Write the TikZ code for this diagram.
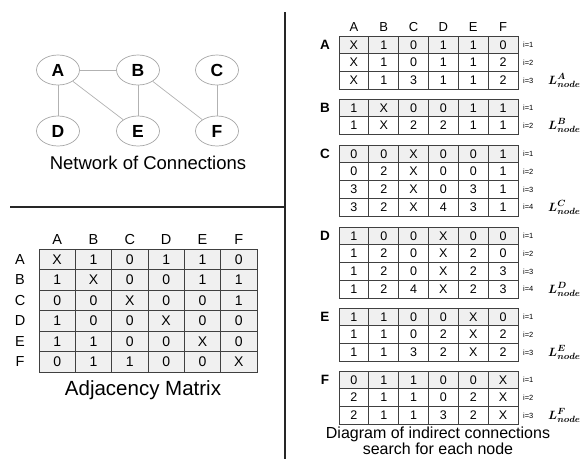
\documentclass[tikz,border=0pt]{standalone}
\usepackage{amsmath,amssymb}
\usepackage{fontspec}
\setmainfont{Liberation Sans}
\usepackage{tikz}
\usetikzlibrary{shapes.geometric}

% one search table: #1 node, #2 top edge, #3 rows, #4 number of rows
\newcommand{\searchtab}[4]{%
  \node[rowlab] (lab-#1) at (325,{#2+8.9}) {#1};
  \foreach \row [count=\r] in {#3} {
    \ifnum\r=1 \def\shade{black!6}\else\def\shade{white}\fi
    \foreach \v [count=\c] in \row
      \node[cell, fill=\shade] (#1-\r-\c) at ({339+29.83*(\c-0.5)},{#2+17.75*(\r-0.5)}) {\v};
    \node[iter] (#1-i\r) at (523,{#2+17.75*(\r-0.5)}) {i=\r};
  }
  \node[lnode] (#1-L) at (548,{#2+17.75*(#4-0.5)}) {$\boldsymbol{L}^{\boldsymbol{#1}}_{\boldsymbol{node}}$};
}

\begin{document}
\begin{tikzpicture}[
  x=1pt, y=-1pt,
  every node/.style={inner sep=0pt, font=\fontsize{13}{13}\selectfont},
  vertex/.style={ellipse, draw=black!35, line width=0.7pt, minimum width=43pt, minimum height=30pt, font=\fontsize{17.5}{17.5}\selectfont\bfseries},
  link/.style={draw=black!30, line width=0.7pt},
  bigcell/.style={draw=black!75, fill=black!6, line width=0.8pt, minimum width=36.33pt, minimum height=20.5pt, font=\fontsize{14}{14}\selectfont},
  cell/.style={draw=black!75, line width=0.8pt, minimum width=29.83pt, minimum height=17.75pt, font=\fontsize{12.5}{12.5}\selectfont},
  rowlab/.style={font=\fontsize{13.5}{13.5}\selectfont\bfseries},
  iter/.style={anchor=west, font=\fontsize{7.5}{7.5}\selectfont},
  lnode/.style={anchor=west, font=\fontsize{13}{13}\selectfont},
  caption/.style={align=center}
]
\useasboundingbox (0,0) rectangle (582,459);

% network
\node[vertex] (A) at (58,70) {A};
\node[vertex] (B) at (138,70) {B};
\node[vertex] (C) at (217,70) {C};
\node[vertex] (D) at (58,131) {D};
\node[vertex] (E) at (138,131) {E};
\node[vertex] (F) at (217,131) {F};
\foreach \u/\w in {A/B, A/D, A/E, B/E, B/F, C/F}
  \draw[link] (\u) -- (\w);
\node[caption, font=\fontsize{18.5}{18.5}\selectfont] (netcap) at (148,163) {Network of Connections};

% dividers
\coordinate (vtop) at (285,12);
\coordinate (vbot) at (285,459);
\coordinate (hleft) at (10,207);
\coordinate (hright) at (285,207);
\draw[line width=2pt, black!85] (vtop) -- (vbot);
\draw[line width=1.5pt, black!85] (hleft) -- (hright);

% adjacency matrix
\foreach \h [count=\c] in {A,B,C,D,E,F} {
  \node[font=\fontsize{14.5}{14.5}\selectfont] (top-\h) at ({39+36.33*(\c-0.5)},240) {\h};
  \node[font=\fontsize{14.5}{14.5}\selectfont] (side-\h) at (20,{249+20.5*(\c-0.5)}) {\h};
}
\foreach \row [count=\r] in {{X,1,0,1,1,0},{1,X,0,0,1,1},{0,0,X,0,0,1},{1,0,0,X,0,0},{1,1,0,0,X,0},{0,1,1,0,0,X}}
  \foreach \v [count=\c] in \row
    \node[bigcell] (adj-\r-\c) at ({39+36.33*(\c-0.5)},{249+20.5*(\r-0.5)}) {\v};
\node[caption, font=\fontsize{20.5}{20.5}\selectfont] (adjcap) at (143,390) {Adjacency Matrix};

% search tables
\foreach \h [count=\c] in {A,B,C,D,E,F}
  \node (head-\h) at ({339+29.83*(\c-0.5)},27) {\h};
\searchtab{A}{36}{{X,1,0,1,1,0},{X,1,0,1,1,2},{X,1,3,1,1,2}}{3}
\searchtab{B}{99}{{1,X,0,0,1,1},{1,X,2,2,1,1}}{2}
\searchtab{C}{145}{{0,0,X,0,0,1},{0,2,X,0,0,1},{3,2,X,0,3,1},{3,2,X,4,3,1}}{4}
\searchtab{D}{227}{{1,0,0,X,0,0},{1,2,0,X,2,0},{1,2,0,X,2,3},{1,2,4,X,2,3}}{4}
\searchtab{E}{308}{{1,1,0,0,X,0},{1,1,0,2,X,2},{1,1,3,2,X,2}}{3}
\searchtab{F}{371}{{0,1,1,0,0,X},{2,1,1,0,2,X},{2,1,1,3,2,X}}{3}
\node[caption, font=\fontsize{16}{16.5}\selectfont] (searchcap) at (438,441) {Diagram of indirect connections\\search for each node};
\end{tikzpicture}
\end{document}
